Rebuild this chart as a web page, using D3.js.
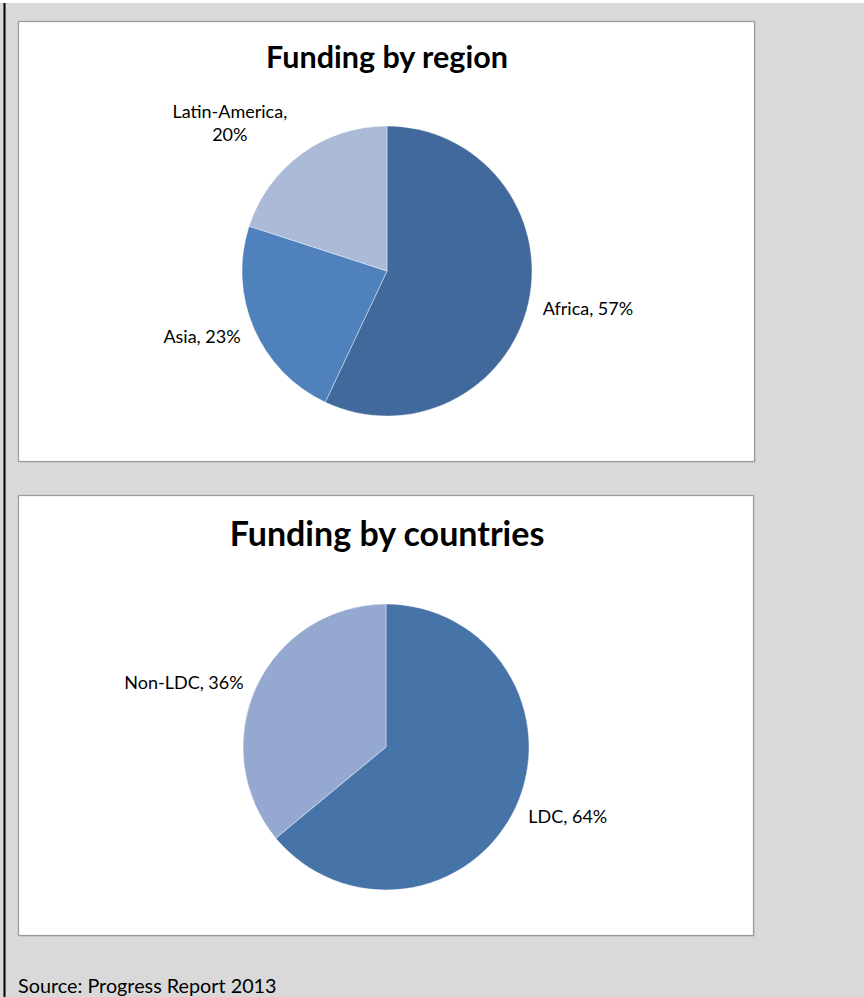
<!DOCTYPE html>
<html><head><meta charset="utf-8">
<script src="https://cdn.jsdelivr.net/npm/d3@7"></script>
<style>
html,body{margin:0;padding:0;background:#fff;}
svg{display:block;}
</style></head>
<body>
<svg id="c" width="864" height="997"></svg>
<script>
// Data
const regionTitle = "Funding by region";
const regionCategories = ["Africa", "Asia", "Latin-America"];
const regionValues = [57, 23, 20];
const regionColors = ["#41699c", "#4f81bd", "#abbad7"];

const countryTitle = "Funding by countries";
const countryCategories = ["LDC", "Non-LDC"];
const countryValues = [64, 36];
const countryColors = ["#4673a8", "#95a9d0"];

const sourceText = "Source: Progress Report 2013";

const svg = d3.select("#c");
const FONT = "Lato, 'Open Sans', sans-serif";

// page background
svg.append("rect").attr("x",0).attr("y",3).attr("width",864).attr("height",994).attr("fill","#d9d9d9");
svg.append("line").attr("x1",4.5).attr("x2",4.5).attr("y1",3).attr("y2",997)
  .attr("stroke","#000").attr("stroke-width",2);

function panel(p) {
  const g = svg.append("g");
  g.append("rect").attr("x",p.x+1).attr("y",p.y+1).attr("width",p.w).attr("height",p.h)
    .attr("fill","#bdbdbd");
  g.append("rect").attr("x",p.x).attr("y",p.y).attr("width",p.w).attr("height",p.h)
    .attr("fill","#fff").attr("stroke","#9a9a9a").attr("stroke-width",1.2);
  g.append("text").attr("x",p.titleX).attr("y",p.titleY).attr("text-anchor","middle")
    .attr("font-family",FONT).attr("font-weight","bold").attr("font-size",p.titleSize)
    .attr("fill","#000").text(p.title);

  const data = p.cats.map((c,i)=>({cat:c, value:p.values[i], color:p.colors[i]}));
  const pie = d3.pie().value(d=>d.value).sort(null);
  const arcs = pie(data);
  const arc = d3.arc().innerRadius(0).outerRadius(p.r);
  const pg = g.append("g").attr("transform",`translate(${p.cx},${p.cy})`);
  pg.selectAll("path").data(arcs).join("path")
    .attr("d",arc).attr("fill",d=>d.data.color)
    .attr("stroke","#fff").attr("stroke-width",0.4);

  const labelR = p.r*1.1;
  arcs.forEach(a=>{
    const mid = (a.startAngle+a.endAngle)/2;
    const lx = Math.sin(mid)*labelR, ly = -Math.cos(mid)*labelR;
    const right = Math.sin(mid) >= 0;
    const txt = `${a.data.cat}, ${a.data.value}%`;
    const t = pg.append("text").attr("font-family",FONT).attr("font-size",p.labelSize).attr("fill","#000");
    if (p.wrap && p.wrap.includes(a.data.cat)) {
      const l1 = `${a.data.cat},`, l2 = `${a.data.value}%`;
      const tmp = pg.append("text").attr("font-family",FONT).attr("font-size",p.labelSize).text(l1);
      const w = tmp.node().getComputedTextLength(); tmp.remove();
      const cxl = lx - w/2 - 6;
      t.attr("text-anchor","middle");
      t.append("tspan").attr("x",cxl).attr("y",ly-24).text(l1);
      t.append("tspan").attr("x",cxl).attr("y",ly-1).text(l2);
    } else {
      t.attr("x", lx).attr("y", ly+9).attr("text-anchor", right?"start":"end").text(txt);
    }
  });
}

panel({x:18.5,y:21.5,w:736,h:440,title:regionTitle,titleX:387,titleY:68,titleSize:30.5,
  cx:387,cy:271,r:145,cats:regionCategories,values:regionValues,colors:regionColors,
  labelSize:18,wrap:["Latin-America"]});
panel({x:18.5,y:495.5,w:735,h:440,title:countryTitle,titleX:387,titleY:546,titleSize:34,
  cx:386,cy:747,r:143,cats:countryCategories,values:countryValues,colors:countryColors,
  labelSize:18});

svg.append("text").attr("x",18).attr("y",993).attr("font-family",FONT).attr("font-size",19.8)
  .attr("fill","#000").text(sourceText);
</script>
</body></html>
